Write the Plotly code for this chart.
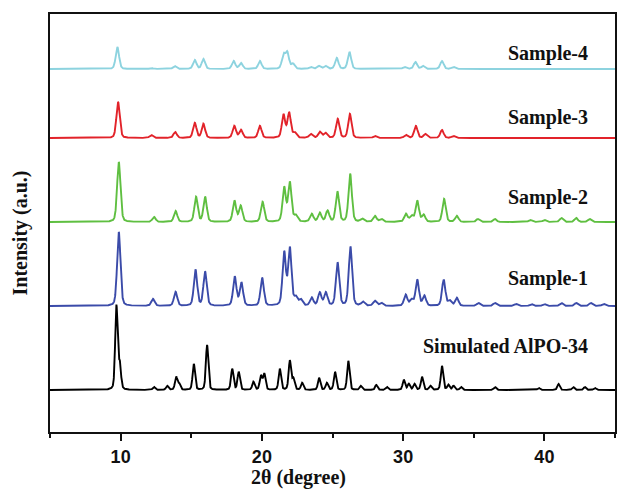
import numpy as np
import plotly.graph_objects as go

# ---- data (2theta in degrees, peak heights in arbitrary units) ----
sim_pos = [9.70, 9.94, 12.36, 13.30, 13.93, 14.15, 15.18, 16.12, 17.90, 18.36, 19.40, 19.93,
           20.17, 21.27, 21.98, 22.23, 22.85, 24.05, 24.60, 25.18, 26.12, 27.00, 28.10, 28.85,
           30.05, 30.40, 30.80, 31.34, 31.93, 32.75, 33.20, 33.57, 34.10, 36.50, 39.60, 41.00,
           42.04, 42.86, 43.57]
sim_h = [84, 25, 3, 4, 13, 6, 26, 45, 21, 18, 8, 14,
         16, 21, 29, 11, 7, 12, 7, 18, 29, 4, 5, 3,
         10, 6, 6, 13, 4, 24, 5, 4, 3, 3, 2, 6,
         3, 3, 2]

s1_pos = [9.87, 12.29, 13.89, 15.30, 15.98, 18.08, 18.55, 20.02, 21.58, 21.98, 22.40, 22.75,
          23.53, 24.10, 24.53, 25.36, 26.27, 27.15, 28.00, 28.45, 30.18, 30.60, 31.00, 31.50,
          32.87, 33.30, 33.80, 35.33, 36.50, 38.00, 39.08, 40.00, 41.20, 42.25, 43.28, 44.20]
s1_h = [74, 7, 14, 36, 34, 29, 23, 28, 53, 57, 8, 6,
        8, 13, 13, 43, 59, 4, 5, 3, 11, 6, 26, 10,
        26, 5, 8, 3, 3, 2, 2, 2, 3, 3, 3, 2]

s2_pos = [9.87, 12.36, 13.89, 15.34, 15.98, 18.06, 18.50, 20.05, 21.58, 21.98, 22.40, 23.53,
          24.10, 24.65, 25.35, 26.25, 27.10, 28.00, 28.45, 30.20, 30.60, 31.00, 31.45, 32.90,
          33.80, 35.30, 36.50, 39.00, 40.00, 41.20, 42.25, 43.20]
s2_h = [60, 5, 11, 25, 25, 21, 16, 20, 34, 39, 6, 8,
        9, 11, 30, 48, 3, 6, 3, 8, 6, 21, 7, 23,
        6, 3, 3, 2, 2, 4, 4, 3]

s3_pos = [9.82, 12.17, 13.86, 15.25, 15.86, 18.05, 18.52, 19.86, 21.53, 21.93, 22.33, 23.46,
          24.10, 24.50, 25.37, 26.23, 28.00, 30.20, 30.90, 31.57, 32.75, 33.57]
s3_h = [36, 3, 6, 15, 14, 12, 8, 12, 23, 25, 5, 4,
        6, 5, 19, 24, 2, 3, 12, 4, 8, 2]

s4_pos = [9.77, 12.17, 13.83, 15.25, 15.86, 18.00, 18.52, 19.86, 21.53, 21.80, 22.20, 23.46,
          24.03, 24.50, 25.30, 26.20, 30.10, 30.87, 31.40, 32.75, 33.57]
s4_h = [22, 1, 3, 9, 10, 8, 6, 8, 14, 16, 5, 2,
        3, 3, 11, 17, 2, 7, 3, 8, 2]

names = ["Simulated AlPO-34", "Sample-1", "Sample-2", "Sample-3", "Sample-4"]
offsets = [42, 126, 210, 294, 363]
label_y = [86, 154, 235, 315, 379]
colors = ["#000000", "#3B4BA9", "#5FBF41", "#E2232A", "#8DD3DF"]
widths = [0.20, 0.28, 0.28, 0.28, 0.28]

x_ticks = [10, 20, 30, 40]

# ---- build profiles from the peak tables ----
tt = np.linspace(5, 45, 4001)


def profile(pos, h, fwhm, eta=0.3):
    y = np.zeros_like(tt)
    s = fwhm / 2.3548
    g = fwhm / 2
    for p, a in zip(pos, h):
        gau = np.exp(-0.5 * ((tt - p) / s) ** 2)
        lor = 1 / (1 + ((tt - p) / g) ** 2)
        y += a * ((1 - eta) * gau + eta * lor)
    return y


tables = [(sim_pos, sim_h), (s1_pos, s1_h), (s2_pos, s2_h), (s3_pos, s3_h), (s4_pos, s4_h)]

fig = go.Figure()
for (pos, h), name, off, col, w in zip(tables, names, offsets, colors, widths):
    fig.add_trace(go.Scatter(x=tt, y=profile(pos, h, w) + off, mode="lines", name=name,
                             line=dict(color=col, width=1.9), showlegend=False))

for name, ly in zip(names, label_y):
    fig.add_annotation(x=43.2, y=ly, xref="x", yref="y", text=name, showarrow=False,
                       xanchor="right", yanchor="middle",
                       font=dict(family="Liberation Serif", size=20, color="#111111", weight="bold"))

fig.add_annotation(x=0.44, y=-0.108, xref="paper", yref="paper", text="2θ (degree)",
                   showarrow=False, xanchor="center", yanchor="middle",
                   font=dict(family="Liberation Serif", size=20, color="#111111", weight="bold"))
fig.add_annotation(x=-0.053, y=0.475, xref="paper", yref="paper", text="Intensity (a.u.)",
                   showarrow=False, xanchor="center", yanchor="middle", textangle=-90,
                   font=dict(family="Liberation Serif", size=20, color="#111111", weight="bold"))

fig.update_layout(
    width=618, height=489,
    margin=dict(l=50, r=1, t=14, b=57),
    paper_bgcolor="white", plot_bgcolor="white",
    xaxis=dict(range=[5, 45], tickvals=x_ticks, ticks="outside", ticklen=7, tickwidth=2,
               tickcolor="#111111", showline=True, linecolor="#111111", linewidth=2,
               mirror=True, showgrid=False, zeroline=False,
               tickfont=dict(family="Liberation Sans", size=18, color="#111111", weight="bold"),
               minor=dict(dtick=5, tick0=0, ticks="outside", ticklen=4, tickwidth=2,
                          tickcolor="#111111", showgrid=False)),
    yaxis=dict(range=[0, 418], showticklabels=False, ticks="", showline=True,
               linecolor="#111111", linewidth=2, mirror=True, showgrid=False, zeroline=False),
)

fig.write_html("out.html", config={"displayModeBar": False},
               post_script="document.body.style.margin='0';document.body.style.overflow='hidden';")
